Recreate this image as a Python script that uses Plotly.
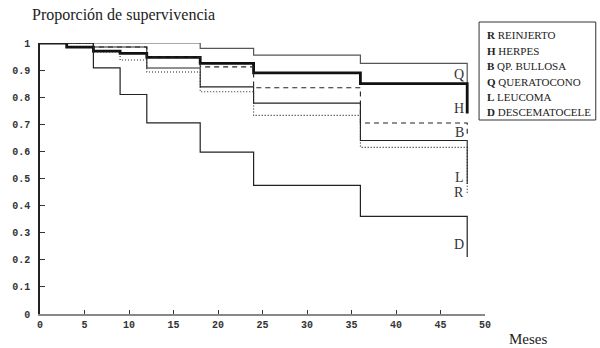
import plotly.graph_objects as go

# ---- data ----
q_t = [0, 18, 24, 36, 48, 48]
q_s = [1.0, 0.98, 0.955, 0.925, 0.925, 0.85]
h_t = [0, 3, 6, 9, 12, 18, 24, 36, 48, 48]
h_s = [1.0, 0.985, 0.97, 0.962, 0.947, 0.925, 0.89, 0.85, 0.85, 0.74]
b_t = [0, 6, 12, 18, 24, 36, 48, 48]
b_s = [1.0, 0.985, 0.948, 0.912, 0.835, 0.705, 0.705, 0.65]
l_t = [0, 6, 12, 18, 24, 36, 48, 48]
l_s = [1.0, 0.985, 0.908, 0.838, 0.778, 0.64, 0.64, 0.48]
r_t = [0, 3, 6, 9, 12, 18, 24, 36, 48, 48]
r_s = [1.0, 0.985, 0.967, 0.937, 0.893, 0.82, 0.733, 0.615, 0.615, 0.44]
d_t = [0, 6, 9, 12, 18, 24, 36, 48, 48]
d_s = [1.0, 0.908, 0.81, 0.705, 0.597, 0.475, 0.36, 0.36, 0.21]

end_letters = ["Q", "H", "B", "L", "R", "D"]
end_label_y = [0.882, 0.76, 0.668, 0.502, 0.45, 0.255]

legend_keys = ["R", "H", "B", "Q", "L", "D"]
legend_names = ["REINJERTO", "HERPES", "QP. BULLOSA", "QUERATOCONO", "LEUCOMA", "DESCEMATOCELE"]

x_ticks = [0, 5, 10, 15, 20, 25, 30, 35, 40, 45, 50]
x_ticktext = ["0", "5", "10", "15", "20", "25", "30", "35", "40", "45", "50"]
y_ticks = [0, 0.1, 0.2, 0.3, 0.4, 0.5, 0.6, 0.7, 0.8, 0.9, 1.0]
y_ticktext = ["0", "0.1", "0.2", "0.3", "0.4", "0.5", "0.6", "0.7", "0.8", "0.9", "1"]

# ---- figure ----
W, H = 600, 348
L_PX, R_PX, T_PX, B_PX = 35, 485, 43, 314

def px_x(p):
    return (p - L_PX) / (R_PX - L_PX)

def px_y(p):
    return (B_PX - p) / (B_PX - T_PX)

fig = go.Figure()
styles = [
    (q_t, q_s, dict(color="#555555", width=1.2, dash="solid")),
    (h_t, h_s, dict(color="#111111", width=2.8, dash="solid")),
    (b_t, b_s, dict(color="#222222", width=1.1, dash="5px,4px")),
    (l_t, l_s, dict(color="#222222", width=1.1, dash="solid")),
    (r_t, r_s, dict(color="#222222", width=1.1, dash="1px,2px")),
    (d_t, d_s, dict(color="#222222", width=1.2, dash="solid")),
]
for t, s, ln in styles:
    fig.add_trace(go.Scatter(x=t, y=s, mode="lines", line=dict(shape="hv", **ln),
                             cliponaxis=False, showlegend=False, hoverinfo="skip"))

annotations = []
for letter, yv in zip(end_letters, end_label_y):
    annotations.append(dict(x=48, y=yv, xref="x", yref="y", text=letter, showarrow=False,
                            xanchor="right", xshift=-1,
                            font=dict(family="Liberation Serif", size=14, color="#333333")))

line_y = [35, 51, 66, 82, 97, 112]
for k, n, py in zip(legend_keys, legend_names, line_y):
    annotations.append(dict(x=px_x(485), y=px_y(py), xref="paper", yref="paper",
                            text="<b>" + k + "</b> " + n, showarrow=False,
                            xanchor="left", yanchor="middle",
                            font=dict(family="Liberation Serif", size=11, color="#222222")))

annotations.append(dict(x=px_x(25), y=px_y(15), xref="paper", yref="paper",
                        text="Proporción de supervivencia", showarrow=False,
                        xanchor="left", yanchor="middle",
                        font=dict(family="Liberation Serif", size=16, color="#222222")))
annotations.append(dict(x=px_x(528), y=px_y(339), xref="paper", yref="paper",
                        text="Meses", showarrow=False, xanchor="center", yanchor="middle",
                        font=dict(family="Liberation Serif", size=15, color="#222222")))

shapes = [dict(type="rect", xref="paper", yref="paper",
               x0=px_x(479), x1=px_x(597), y0=px_y(120), y1=px_y(22),
               line=dict(color="#333333", width=1), fillcolor="rgba(0,0,0,0)")]

fig.update_layout(
    width=W, height=H,
    margin=dict(l=L_PX, r=W - R_PX, t=T_PX, b=H - B_PX, pad=0),
    paper_bgcolor="white", plot_bgcolor="white",
    annotations=annotations, shapes=shapes,
    xaxis=dict(range=[0, 50], tickvals=x_ticks, ticktext=["<b>" + s + "</b>" for s in x_ticktext],
               ticks="inside", ticklen=4, tickcolor="#333333",
               showline=True, linecolor="#888888", linewidth=2, showgrid=False, zeroline=False,
               tickfont=dict(family="Liberation Mono", size=10, color="#333333"),
               fixedrange=True),
    yaxis=dict(range=[0, 1], tickvals=y_ticks, ticktext=["<b>" + s + "</b>" for s in y_ticktext],
               ticks="inside", ticklen=5,
               tickcolor="#333333", showline=True, linecolor="#222222", linewidth=1.5,
               showgrid=False, zeroline=False, ticklabelstandoff=6,
               tickfont=dict(family="Liberation Mono", size=10, color="#333333"),
               fixedrange=True),
)

fig.write_html("out.html")
